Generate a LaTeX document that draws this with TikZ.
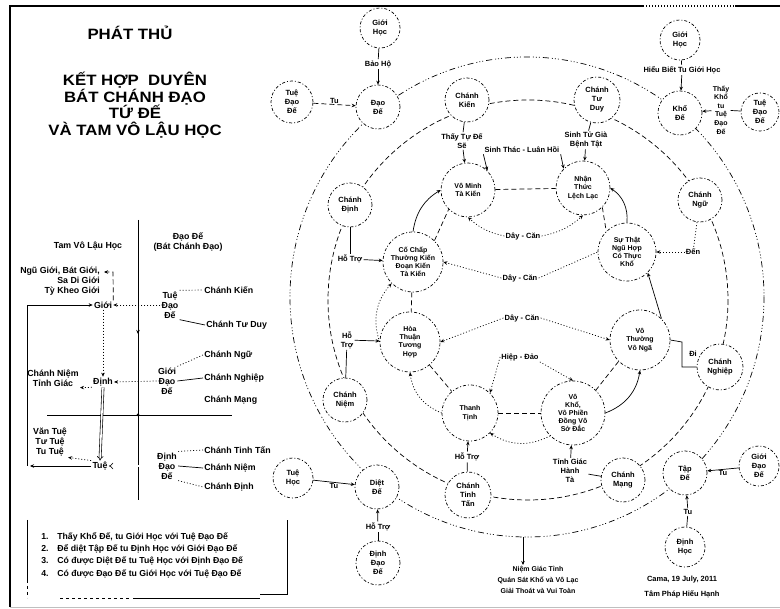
\documentclass[tikz,border=0pt]{standalone}
\usepackage{fontspec}
\setmainfont{Liberation Sans}
\newfontfamily\titlefont{Liberation Sans}[FakeStretch=1.12]
\usetikzlibrary{arrows.meta}
\tikzset{
  lbl/.style={font=\bfseries\fontsize{7.5}{9}\selectfont, align=center, inner sep=1pt},
  side/.style={lbl, font=\bfseries\fontsize{8.8}{10}\selectfont},
  circ/.style={circle, draw, fill=white, align=center, inner sep=0pt, minimum size=#1,
    dash pattern=on 3pt off 2pt on 1pt off 2pt, font=\bfseries\fontsize{7.5}{9}\selectfont},
  circ/.default=44pt,
  inner/.style={circ=#1, font=\bfseries\fontsize{7}{8.2}\selectfont},
  dotl/.style={dash pattern=on 1pt off 2pt},
  dashl/.style={dash pattern=on 5pt off 3pt},
  ring/.style={dash pattern=on 6pt off 3pt on 1pt off 2pt on 1pt off 2pt on 1pt off 3pt},
}
\begin{document}
\begin{tikzpicture}[x=1pt, y=-1pt, >={Stealth[length=4pt,width=3.5pt]}, line width=0.7pt]
\useasboundingbox (0,0) rectangle (780,609);
% frame
\draw[line width=1.2pt] (10,607) -- (10,6) -- (643,6);
\draw[line width=1.2pt, dotl] (643,6) -- (735,6);
\draw[line width=1.2pt] (735,6) -- (780,6);
\draw[gray!50, line width=0.5pt] (10,607) -- (780,607);

% title
\node[font=\titlefont\bfseries\fontsize{15}{17}\selectfont] (phatthu) at (130,33) {PHÁT THỦ};
\node[font=\titlefont\bfseries\fontsize{15}{16.7}\selectfont, align=center] (title) at (135,105)
  {KẾT HỢP\ \ DUYÊN\\BÁT CHÁNH ĐẠO\\TỨ ĐẾ\\VÀ TAM VÔ LẬU HỌC};

% left panel
\draw (138,220) -- (138,500);
\draw (47,415) -- (232,415);
\fill (138,415) circle (1.5);
\draw[->] (138,322) -- (138,334);
\node[side] (tvlh) at (88,246) {Tam Vô Lậu Học};
\node[side] (dd) at (188,242) {Đạo Đế\\(Bát Chánh Đạo)};
\node[side, align=right] (gioiluat) at (60,281) {Ngũ Giới, Bát Giới,\\Sa Di Giới\\Tỳ Kheo Giới};
\node[side] (gioi) at (103,305) {Giới};
\node[side] (tuedd) at (170,305) {Tuệ\\Đạo\\Đế};
\node[side, anchor=west] (ckL) at (203,290) {Chánh Kiến};
\node[side, anchor=west] (ctdL) at (205,325) {Chánh Tư Duy};
\node[side] (dinh) at (103,382) {Định};
\node[side] (cntg) at (53,378) {Chánh Niệm\\Tỉnh Giác};
\node[side] (gioidd) at (167,381) {Giới\\Đạo\\Đế};
\node[side, anchor=west] (cnguL) at (203,355) {Chánh Ngữ};
\node[side, anchor=west] (cnghiepL) at (203,378) {Chánh Nghiệp};
\node[side, anchor=west] (cmangL) at (203,400) {Chánh Mạng};
\node[side] (tue) at (100,466) {Tuệ};
\node[side] (vtt) at (50,442) {Văn Tuệ\\Tư Tuệ\\Tu Tuệ};
\node[side] (dinhdd) at (167,466) {Định\\Đạo\\Đế};
\node[side, anchor=west] (cttL) at (203,450) {Chánh Tinh Tấn};
\node[side, anchor=west] (cnL) at (203,468) {Chánh Niệm};
\node[side, anchor=west] (cdL) at (203,487) {Chánh Định};
\coordinate (gl) at (104,272);
\draw[dashl,->] (gioi.north east) -- (113,272) -- (gl);
\draw[dotl,->] (tuedd.west) -- (gioi.east);
\draw[dotl] (tuedd.north east) -- (ckL.west);
\draw (tuedd.south east) -- (ctdL.west);
\draw[dotl,->] (gioi.south) -- (dinh.north);
\draw[dotl,->] (gioidd.west) -- (dinh.east);
\draw[dotl,->] (dinh.south west) -- (cntg.south east);
\draw[dotl] (gioidd.north east) -- (cnguL.west);
\draw (gioidd.east) -- (cnghiepL.west);
\draw[double, double distance=1.6pt, line width=0.6pt, -Implies] (dinh.south) -- (tue.north);
\draw[double, double distance=1.6pt, line width=0.6pt, -Implies] (dinhdd.west) -- (tue.east);
\draw[dotl,->] (tue.north west) -- (vtt.south east);
\draw[dotl] (dinhdd.north east) -- (cttL.west);
\draw (dinhdd.east) -- (cnL.west);
\draw[dotl] (dinhdd.south east) -- (cdL.west);
\draw[->] (tue.west) -- (30,466);
\draw[->] (27,466) -- (27,305) -- (gioi.west);

% list
\draw (27,520) -- (27,580);
\draw[dashed] (27,580) -- (27,598);
\draw[dashed] (60,598) -- (130,598);
\draw (133,598) -- (260,598);
\draw (260,594) -- (287,594) -- (287,520);
\node[side, anchor=north west, align=left, font=\bfseries\fontsize{8.7}{12.3}\selectfont] (list) at (40,531)
  {1.\quad Thấy Khổ Đế, tu Giới Học với Tuệ Đạo Đế\\
   2.\quad Để diệt Tập Đế tu Định Học với Giới Đạo Đế\\
   3.\quad Có được Diệt Đế tu Tuệ Học với Định Đạo Đế\\
   4.\quad Có được Đạo Đế tu Giới Học với Tuệ Đạo Đế};

% rings
\draw[ring] (527,297) ellipse [x radius=237, y radius=240];
\draw[dashl] (528,300) circle [radius=200];

% four truths
\node[circ] (daode) at (378,107) {Đạo\\Đế};
\node[circ] (khode) at (680,113) {Khổ\\Đế};
\node[circ] (dietde) at (377,487) {Diệt\\Đế};
\node[circ] (tapde) at (685,473) {Tập\\Đế};
\node[circ=40pt] (gioihocA) at (380,28) {Giới\\Học};
\node[circ=42pt] (tuedaoA) at (292,102) {Tuệ\\Đạo\\Đế};
\node[circ=40pt] (gioihocB) at (680,40) {Giới\\Học};
\node[circ=38pt] (tuedaoB) at (760,112) {Tuệ\\Đạo\\Đế};
\node[circ=40pt] (tuehoc) at (293,478) {Tuệ\\Học};
\node[circ=44pt] (dinhdao) at (378,563) {Định\\Đạo\\Đế};
\node[circ=40pt] (gioidao) at (759,466) {Giới\\Đạo\\Đế};
\node[circ=40pt] (dinhhoc) at (685,547) {Định\\Học};

% eightfold path
\node[circ] (ckien) at (467,100) {Chánh\\Kiến};
\node[circ=46pt] (ctuduy) at (597,100) {Chánh\\Tư\\Duy};
\node[circ] (cngu) at (700,200) {Chánh\\Ngữ};
\node[circ=46pt] (cnghiep) at (720,367) {Chánh\\Nghiệp};
\node[circ] (cmang) at (623,480) {Chánh\\Mạng};
\node[circ=46pt] (ctinhtan) at (468,495) {Chánh\\Tinh\\Tấn};
\node[circ] (cniem) at (345,400) {Chánh\\Niệm};
\node[circ] (cdinh) at (350,205) {Chánh\\Định};

% inner nodes
\node[inner=54pt] (vominh) at (468,190) {Vô Minh\\Tà Kiến};
\node[inner=54pt] (nhanthuc) at (583,188) {Nhận\\Thức\\Lệch Lạc};
\node[inner=58pt] (suthat) at (627,252) {Sự Thật\\Ngũ Hợp\\Có Thực\\Khổ};
\node[inner=60pt] (cochap) at (413,262) {Cố Chấp\\Thường Kiến\\Đoạn Kiến\\Tà Kiến};
\node[inner=60pt] (hoahop) at (410,342) {Hòa\\Thuận\\Tương\\Hợp};
\node[inner=60pt] (vothuong) at (640,340) {Vô\\Thường\\Vô Ngã};
\node[inner=56pt] (thanhtinh) at (470,413) {Thanh\\Tịnh};
\node[inner=64pt] (vokho) at (573,413) {Vô\\Khổ,\\Vô Phiền\\Đồng Vô\\Sở Đắc};

% labels
\node[lbl] (lbA) at (378,64) {Bảo Hộ};
\node[lbl] (lbB) at (682,70) {Hiểu Biết Tu Giới Học};
\node[lbl, font=\bfseries\fontsize{7}{8.6}\selectfont] (lbK) at (721,110) {Thấy\\Khổ\\tu\\Tuệ\\Đạo\\Đế};
\node[lbl] (lbT) at (688,512) {Tu};
\node[lbl] (hotroD) at (378,527) {Hỗ Trợ};
\node[lbl] (lThay) at (462,141) {Thấy Tự Đế\\Sẽ};
\node[lbl] (lSinh) at (522,150) {Sinh Thác - Luân Hồi};
\node[lbl] (lSinhTu) at (586,140) {Sinh Tử Già\\Bệnh Tật};
\node[lbl] (lDay1) at (523,236) {Dây - Căn};
\node[lbl] (lDay2) at (520,278) {Dây - Căn};
\node[lbl] (lDen) at (693,252) {Đến};
\node[lbl] (lDay3) at (522,318) {Dây - Căn};
\node[lbl] (lHiep) at (520,357) {Hiệp - Đảo};
\node[lbl] (lHo1) at (350,259) {Hỗ Trợ};
\node[lbl] (lHo2) at (347,340) {Hỗ\\Trợ};
\node[lbl] (lHo3) at (467,457) {Hỗ Trợ};
\node[lbl] (lTinh) at (570,471) {Tỉnh Giác\\Hành\\Tà};
\node[lbl] (lDi) at (693,354) {Đi};
\node[lbl, font=\bfseries\fontsize{7}{11}\selectfont] (btext) at (538,580)
  {Niệm Giác Tỉnh\\Quán Sát Khổ và Vô Lạc\\Giải Thoát và Vui Toàn};
\node[lbl, font=\bfseries\fontsize{7.5}{15}\selectfont] (sign) at (682,587)
  {Cama, 19 July, 2011\\Tâm Pháp Hiếu Hạnh};

% outer links
\draw (gioihocA) -- (lbA);
\draw[->] (lbA) -- (daode);
\draw[dashl,->] (tuedaoA) -- node[lbl, above] (tuA) {Tu} (daode);
\draw (gioihocB) -- (lbB);
\draw[->] (lbB) -- (khode);
\draw (tuedaoB) -- (lbK);
\draw[->] (lbK) -- (khode);
\draw[->] (gioidao) -- node[lbl, below] (tuT) {Tu} (tapde);
\draw (dinhhoc) -- (lbT);
\draw[->] (lbT) -- (tapde);
\draw[->] (tuehoc) -- node[lbl, below] (tuD) {Tu} (dietde);
\draw (dinhdao) -- (hotroD);
\draw[->] (hotroD) -- (dietde);
\coordinate (rb) at (523,537);
\draw[->] (rb) -- (rb |- btext.north);

% inner links
\draw (ckien) -- (lThay);
\draw[->] (lThay) -- (vominh);
\draw[->] (lSinh.south west) -- (vominh.north east);
\draw[->] (lSinh.south east) -- (nhanthuc.north west);
\draw[dashl] (vominh) -- (nhanthuc);
\draw (ctuduy) -- (lSinhTu);
\draw[->] (lSinhTu) -- (nhanthuc);
\draw[dotl,->] (lDay1.west) to[bend left=15] (vominh.south);
\draw[dotl,->] (lDay1.east) to[bend right=15] (nhanthuc.south);
\draw[->] (suthat.north) to[bend right=30] (nhanthuc.east);
\draw[dashl] (nhanthuc.south east) -- (suthat.north west);
\draw[dotl,->] (lDay2.west) -- (cochap.east);
\draw[dotl] (lDay2.east) -- (suthat.west);
\draw[dotl] (cngu) -- (lDen);
\draw[dotl,->] (lDen) -- (suthat.east);
\draw[->] (cochap.north) to[bend left=25] (vominh.west);
\draw[dashl] (cochap.north east) -- (vominh.south west);
\draw (cdinh) -- (lHo1);
\draw[->] (lHo1) -- (cochap);
\draw[dashl] (cochap) -- (hoahop);
\draw[dotl,->] (hoahop.west) to[bend left=30] (cochap.south west);
\draw (cniem) -- (lHo2);
\draw[->] (lHo2) -- (hoahop);
\draw[dotl,->] (lDay3.west) -- (hoahop.east);
\draw[dotl,->] (lDay3.east) -- (vothuong.west);
\draw[dotl,->] (lHiep.west) -- (thanhtinh.north east);
\draw[dotl,->] (lHiep.south east) -- (vokho.north);
\draw[dashl] (hoahop) -- (thanhtinh);
\draw[dashl] (thanhtinh) -- (vokho);
\draw[dotl,->] (vokho.south west) to[bend left=30] (thanhtinh.south east);
\draw (ctinhtan) -- (lHo3);
\draw[->] (lHo3) -- (thanhtinh);
\draw[dotl,->] (thanhtinh.west) to[bend left=30] (hoahop.south);
\draw[->] (vokho.east) to[bend right=30] (vothuong.south);
\draw[dashl] (vothuong.south west) -- (vokho.north east);
\draw[->] (vothuong.north east) -- (suthat.south east);
\draw (vothuong.east) -- (682,342) -- (682,367) -- (cnghiep.west);
\draw (cmang) -- (lTinh);
\draw[->] (lTinh) -- (vokho);
\end{tikzpicture}
\end{document}
